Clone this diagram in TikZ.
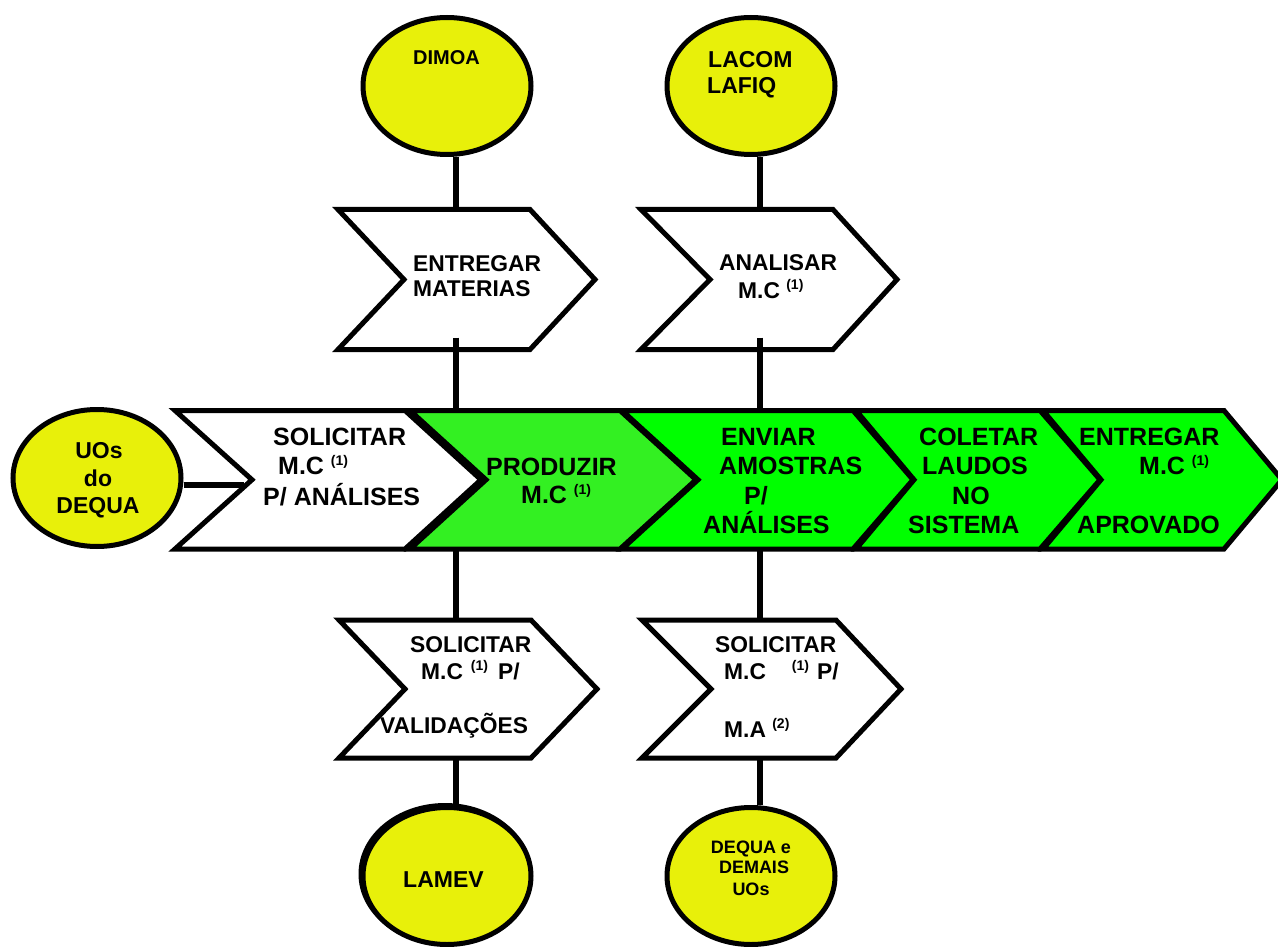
\documentclass[tikz,border=0pt]{standalone}
\usepackage{fontspec}
\setmainfont{Liberation Sans}
\usetikzlibrary{shapes.geometric}

\definecolor{ovalyellow}{RGB}{232,240,10}
\definecolor{stepgreen}{RGB}{0,255,0}
\definecolor{makegreen}{RGB}{51,240,34}

% small raised reference number such as (1)
\newcommand\refmark[1]{\raisebox{9pt}{\fontsize{14}{14}\selectfont(#1)}}

% chevron: #1 name, #2 fill, #3 left x, #4 right corner x, #5 top y, #6 bottom y,
% #7 notch depth, #8 tip depth
\newcommand\stepchev[8]{%
  \pgfmathsetmacro\chw{#4+#8-#3}%
  \pgfmathsetmacro\chh{#6-#5}%
  \pgfmathsetmacro\chm{(#5+#6)/2}%
  \draw[chevline, fill=#2] (#3,#5) -- (#4,#5) -- ({#4+#8},\chm) -- (#4,#6)
    -- (#3,#6) -- ({#3+#7},\chm) -- cycle;
  \node[inner sep=0pt, outer sep=0pt, minimum width=\chw pt, minimum height=\chh pt,
        anchor=north west] (#1) at (#3,#5) {};%
}

\begin{document}
\begin{tikzpicture}[x=1pt, y=-1pt,
  oval/.style={ellipse, draw, line width=5pt, fill=ovalyellow, inner sep=0pt,
               minimum width=168pt, minimum height=137pt},
  chevline/.style={draw, line width=5pt, line join=miter},
  link/.style={line width=5.5pt},
  bigtxt/.style={anchor=base west, inner sep=0pt, font=\fontsize{25}{30}\selectfont\bfseries},
  sidetxt/.style={anchor=base west, inner sep=0pt, font=\fontsize{22.8}{28}\selectfont\bfseries},
  ovaltxt/.style={anchor=base west, inner sep=0pt, font=\fontsize{23}{28}\selectfont\bfseries},
  ovalmid/.style={anchor=base, inner sep=0pt, font=\fontsize{23}{28}\selectfont\bfseries},
  ovalsmall/.style={anchor=base, inner sep=0pt, font=\fontsize{18}{22}\selectfont\bfseries}]

\useasboundingbox (0,0) rectangle (1278,947);

% columns of the vertical links and the end of the left link
\coordinate (colA) at (456,0);
\coordinate (colB) at (760,0);
\coordinate (lk) at (244,485);

% ---------- main process row ----------
\stepchev{solic}{white}{175}{405}{410.5}{549}{77}{76}
\stepchev{produzir}{makegreen}{410}{620}{410.5}{549}{76}{76}
\stepchev{enviar}{stepgreen}{622}{853}{410.5}{549}{76}{60}
\stepchev{coletar}{stepgreen}{856}{1040}{410.5}{549}{58}{60}
\stepchev{entregar}{stepgreen}{1043}{1224}{410.5}{549}{58}{58}

% ---------- upper and lower activities ----------
\stepchev{entmat}{white}{338}{530}{209.5}{349.5}{66}{65}
\stepchev{analisar}{white}{641}{833}{209.5}{349.5}{69}{64}
\stepchev{solval}{white}{339}{531}{620}{758}{66}{66}
\stepchev{solma}{white}{642}{836}{620}{758}{69}{65}

% ---------- organisations ----------
\node[oval, fill=none] (lamevedge) at (445,874) {};
\node[oval] (dimoa) at (447,86) {};
\node[oval] (lacom) at (751,86) {};
\node[oval] (uos) at (97,478) {};
\node[oval] (lamev) at (447,876) {};
\node[oval] (dequa) at (751,876) {};

% ---------- links ----------
\draw[link] (dimoa.south -| colA) -- (entmat.north -| colA);
\draw[link] ([yshift=12pt]entmat.south -| colA) -- (produzir.north -| colA);
\draw[link] (produzir.south -| colA) -- (solval.north -| colA);
\draw[link] (solval.south -| colA) -- (lamev.north -| colA);
\draw[link] (lacom.south -| colB) -- (analisar.north -| colB);
\draw[link] ([yshift=12pt]analisar.south -| colB) -- (enviar.north -| colB);
\draw[link] (enviar.south -| colB) -- (solma.north -| colB);
\draw[link] (solma.south -| colB) -- (dequa.north -| colB);
\draw[link] (uos.east |- lk) -- (lk);

% ---------- texts of the main row ----------
\node[bigtxt] (t1) at (273,445) {SOLICITAR};
\node[bigtxt] (t2) at (278,474) {M.C \refmark{1}};
\node[bigtxt] (t3) at (263,505) {P/ ANÁLISES};
\node[bigtxt] (t4) at (486,475) {PRODUZIR};
\node[bigtxt] (t5) at (521,503) {M.C \refmark{1}};
\node[bigtxt] (t6) at (721,445) {ENVIAR};
\node[bigtxt] (t7) at (719,474) {AMOSTRAS};
\node[bigtxt] (t8) at (744,504) {P/};
\node[bigtxt] (t9) at (703,533) {ANÁLISES};
\node[bigtxt] (t10) at (919,445) {COLETAR};
\node[bigtxt] (t11) at (922,474) {LAUDOS};
\node[bigtxt] (t12) at (952,504) {NO};
\node[bigtxt] (t13) at (908,533) {SISTEMA};
\node[bigtxt] (t14) at (1079,445) {ENTREGAR};
\node[bigtxt] (t15) at (1139,474) {M.C \refmark{1}};
\node[bigtxt] (t16) at (1077,533) {APROVADO};

% ---------- texts of the upper and lower activities ----------
\node[sidetxt] (t17) at (413,271) {ENTREGAR};
\node[sidetxt] (t18) at (413,296) {MATERIAS};
\node[sidetxt] (t19) at (719,270) {ANALISAR};
\node[sidetxt] (t20) at (738,298) {M.C \refmark{1}};
\node[sidetxt] (t21) at (410,652) {SOLICITAR};
\node[sidetxt] (t22) at (421,679) {M.C\hspace{8pt}\refmark{1}\hspace{10pt}P/};
\node[sidetxt] (t23) at (380,733) {VALIDAÇÕES};
\node[sidetxt] (t24) at (715,652) {SOLICITAR};
\node[sidetxt] (t25) at (724,679) {M.C\hspace{26pt}\refmark{1}\hspace{8pt}P/};
\node[sidetxt] (t26) at (724,737) {M.A \refmark{2}};

% ---------- texts of the organisations ----------
\node[anchor=base west, inner sep=0pt, font=\fontsize{20}{24}\selectfont\bfseries] (t27) at (413,65) {DIMOA};
\node[ovaltxt] (t28) at (708,68) {LACOM};
\node[ovaltxt] (t29) at (707,94) {LAFIQ};
\node[ovalmid] (t30) at (99,458) {UOs};
\node[ovalmid] (t31) at (98,486) {do};
\node[ovalmid] (t32) at (98,513) {DEQUA};
\node[ovaltxt] (t33) at (403,887) {LAMEV};
\node[ovalsmall] (t34) at (751,853) {DEQUA e};
\node[ovalsmall] (t35) at (754,873) {DEMAIS};
\node[ovalsmall] (t36) at (751,895) {UOs};

\end{tikzpicture}
\end{document}
